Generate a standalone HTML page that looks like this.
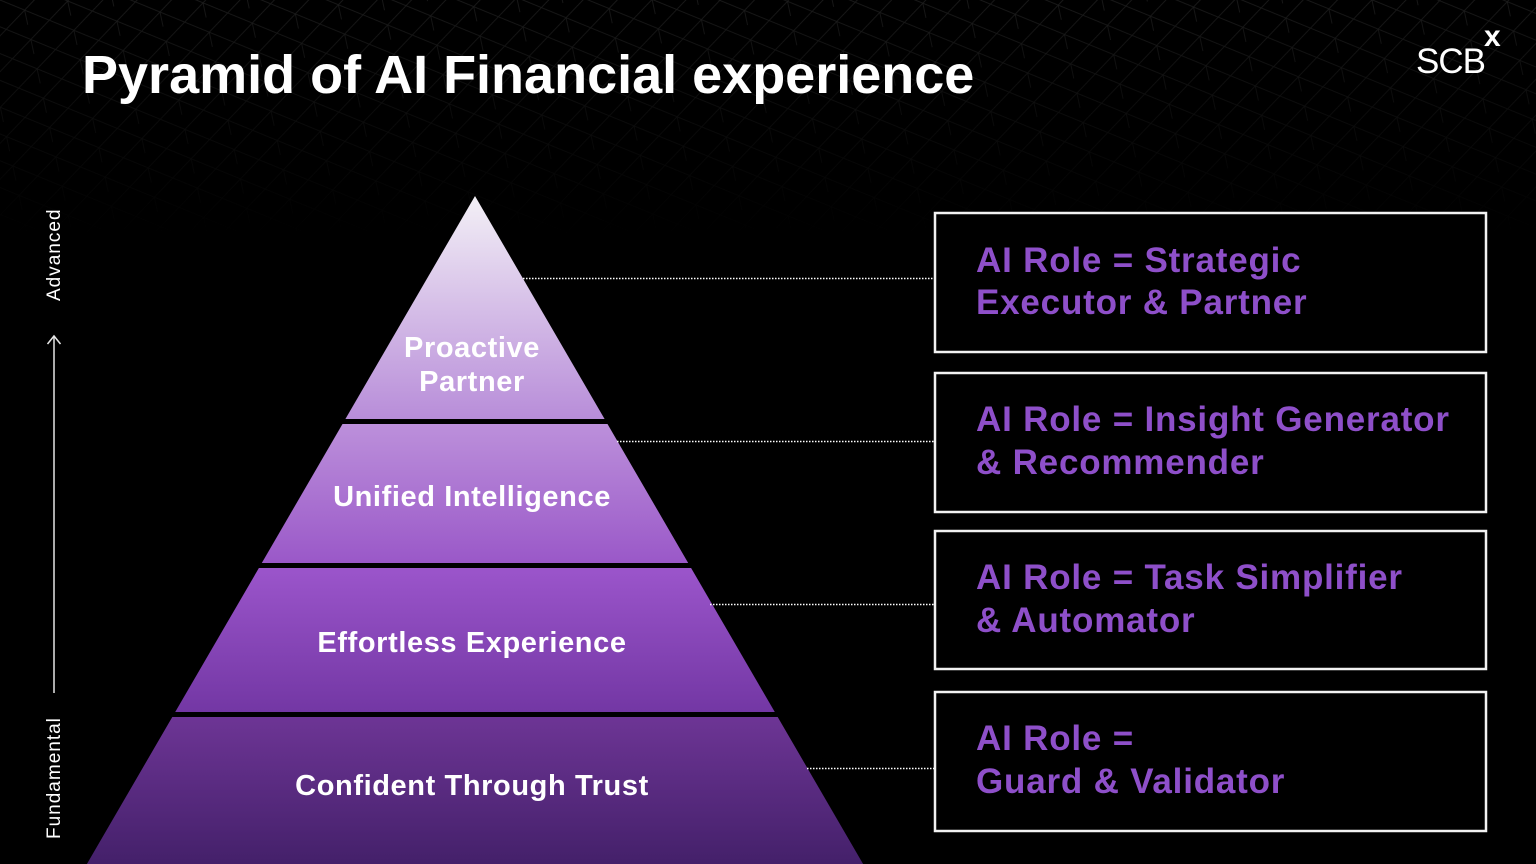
<!DOCTYPE html>
<html>
<head>
<meta charset="utf-8">
<style>
  html,body{margin:0;padding:0;background:#000;}
  body{width:1536px;height:864px;overflow:hidden;position:relative;}
  svg{position:absolute;left:0;top:0;}
  text{font-family:"Liberation Sans",sans-serif;}
</style>
</head>
<body>
<svg width="1536" height="864" viewBox="0 0 1536 864" xmlns="http://www.w3.org/2000/svg">
  <defs>
    <linearGradient id="fade" x1="0" y1="0" x2="0" y2="1">
      <stop offset="0" stop-color="#fff" stop-opacity="1"/>
      <stop offset="0.5" stop-color="#fff" stop-opacity="0.45"/>
      <stop offset="1" stop-color="#fff" stop-opacity="0"/>
    </linearGradient>
    <mask id="meshMask" maskUnits="userSpaceOnUse" x="0" y="0" width="1536" height="240">
      <rect x="0" y="0" width="1536" height="240" fill="url(#fade)"/>
    </mask>
    <pattern id="mesh" patternUnits="userSpaceOnUse" width="44" height="30" patternTransform="rotate(-12)">
      <path d="M0 0 L22 15 L44 0 M0 30 L22 15 L44 30 M22 15 L22 45" stroke="#3a3a3a" stroke-width="0.8" fill="none"/>
    </pattern>
    <linearGradient id="g1" gradientUnits="userSpaceOnUse" x1="0" y1="196" x2="0" y2="419">
      <stop offset="0" stop-color="#f3f0f6"/>
      <stop offset="1" stop-color="#b88dd9"/>
    </linearGradient>
    <linearGradient id="g2" gradientUnits="userSpaceOnUse" x1="0" y1="424" x2="0" y2="563">
      <stop offset="0" stop-color="#bc90db"/>
      <stop offset="1" stop-color="#9a58c8"/>
    </linearGradient>
    <linearGradient id="g3" gradientUnits="userSpaceOnUse" x1="0" y1="568" x2="0" y2="712">
      <stop offset="0" stop-color="#9b55cb"/>
      <stop offset="1" stop-color="#7337a4"/>
    </linearGradient>
    <linearGradient id="g4" gradientUnits="userSpaceOnUse" x1="0" y1="717" x2="0" y2="864">
      <stop offset="0" stop-color="#6d3595"/>
      <stop offset="1" stop-color="#44206a"/>
    </linearGradient>
  </defs>

  <!-- faint mesh background -->
  <rect x="0" y="0" width="1536" height="240" fill="url(#mesh)" mask="url(#meshMask)" opacity="0.5"/>

  <!-- Title -->
  <text x="82" y="93" font-size="54" font-weight="bold" fill="#ffffff">Pyramid of AI Financial experience</text>

  <!-- SCBX logo -->
  <text x="1416" y="73" font-size="35" fill="#ffffff" letter-spacing="-1">SCB</text>
  <text x="1484" y="46" font-size="30" font-weight="bold" fill="#ffffff">x</text>

  <!-- Axis -->
  <line x1="54" y1="336" x2="54" y2="693" stroke="#e6e6e6" stroke-width="1.5"/>
  <polyline points="47.5,344 54,336 60.5,344" fill="none" stroke="#e6e6e6" stroke-width="1.5"/>
  <text transform="translate(60,301) rotate(-90)" font-size="19" fill="#ffffff" letter-spacing="1">Advanced</text>
  <text transform="translate(60,839) rotate(-90)" font-size="19" fill="#ffffff" letter-spacing="1">Fundamental</text>

  <!-- Pyramid layers -->
  <polygon points="475,196 604.6,419 345.4,419" fill="url(#g1)"/>
  <polygon points="342.5,424 607.5,424 688.2,563 261.8,563" fill="url(#g2)"/>
  <polygon points="258.9,568 691.1,568 774.8,712 175.2,712" fill="url(#g3)"/>
  <polygon points="172.3,717 777.7,717 863.1,864 86.9,864" fill="url(#g4)"/>

  <!-- Pyramid labels -->
  <g font-size="29" font-weight="bold" fill="#ffffff" text-anchor="middle" letter-spacing="0.6">
    <text x="472" y="357">Proactive</text>
    <text x="472" y="391">Partner</text>
    <text x="472" y="506">Unified Intelligence</text>
    <text x="472" y="652">Effortless Experience</text>
    <text x="472" y="795">Confident Through Trust</text>
  </g>

  <!-- Dotted connectors -->
  <g stroke="#ffffff" stroke-width="1.5" stroke-dasharray="1.5 1.5">
    <line x1="523" y1="278.5" x2="934" y2="278.5"/>
    <line x1="617" y1="441.5" x2="934" y2="441.5"/>
    <line x1="710" y1="604.5" x2="934" y2="604.5"/>
    <line x1="807" y1="768.5" x2="934" y2="768.5"/>
  </g>

  <!-- Boxes -->
  <g fill="#000" stroke="#f2f2f2" stroke-width="2.5">
    <rect x="935" y="213" width="551" height="139"/>
    <rect x="935" y="373" width="551" height="139"/>
    <rect x="935" y="531" width="551" height="138"/>
    <rect x="935" y="692" width="551" height="139"/>
  </g>

  <!-- Box texts -->
  <g font-size="35" font-weight="bold" fill="#8e4fc9" letter-spacing="0.8">
    <text x="976" y="272">AI Role = Strategic</text>
    <text x="976" y="314">Executor &amp; Partner</text>
    <text x="976" y="431">AI Role = Insight Generator</text>
    <text x="976" y="474">&amp; Recommender</text>
    <text x="976" y="589">AI Role = Task Simplifier</text>
    <text x="976" y="632">&amp; Automator</text>
    <text x="976" y="750">AI Role =</text>
    <text x="976" y="793">Guard &amp; Validator</text>
  </g>
</svg>
</body>
</html>
